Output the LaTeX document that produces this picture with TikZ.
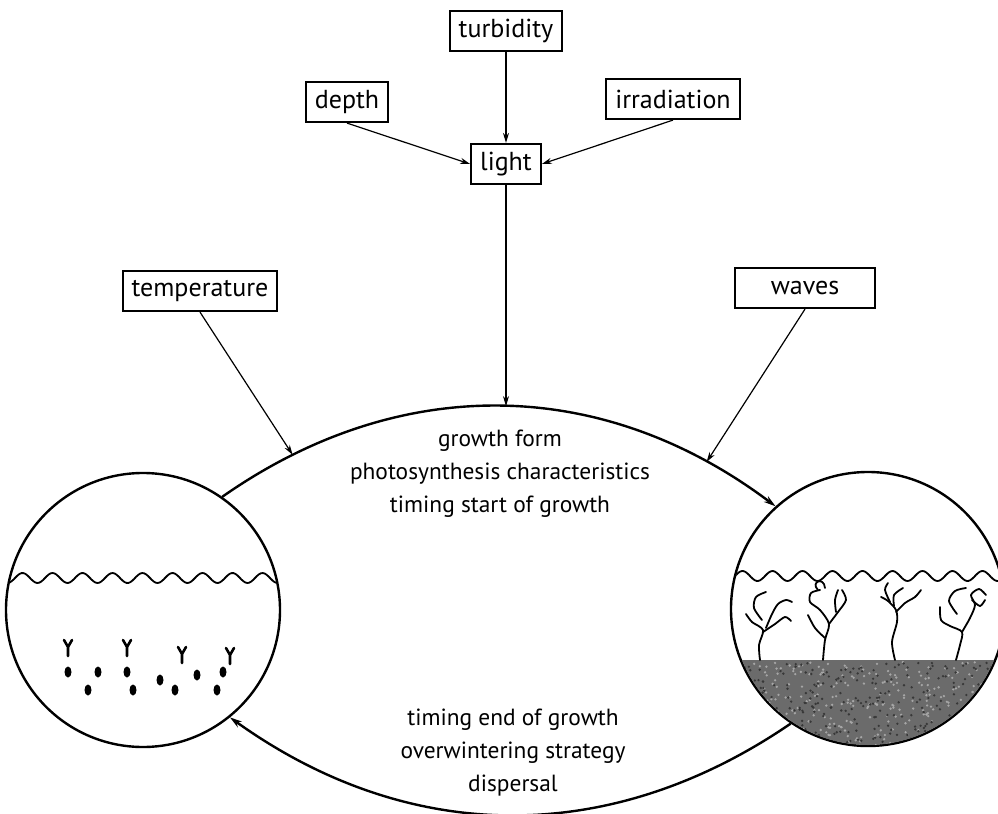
\documentclass[tikz,border=0pt]{standalone}
\usepackage{fontspec}
\setmainfont{PT Sans}
\usetikzlibrary{arrows.meta,positioning,calc}

\begin{document}
\begin{tikzpicture}[x=0.5pt,y=-0.5pt,
    every node/.style={font=\fontsize{13}{16.5}\selectfont},
    factor/.style={draw, line width=1.1pt, inner xsep=4.5pt, inner ysep=0pt, minimum height=20pt},
    pond/.style={draw, circle, line width=1.2pt, minimum size=137pt, inner sep=0pt},
    traitlist/.style={align=center, font=\fontsize{11.7}{16.5}\selectfont},
    link/.style={-{Stealth[length=5pt,width=3pt]}, line width=0.6pt},
    cycle/.style={-{Stealth[length=6pt,width=3.5pt]}, line width=1.2pt},
    weed/.style={line width=0.9pt, line cap=round, line join=round},
]
\useasboundingbox (0,0) rectangle (998,814);

% factors acting on the plants
\node[factor] (turbidity) at (506,31) {turbidity};
\node[factor] (depth) at (347,102) {depth};
\node[factor] (irradiation) at (673,99) {irradiation};
\node[factor] (light) at (506,164) {light};
\node[factor] (temperature) at (200,291) {temperature};
\node[factor, minimum width=70pt] (waves) at (805,288) {waves};

% winter and summer stage
\node[pond] (winter) at (143,610) {};
\node[pond] (summer) at (868,609) {};

% winter: surface, sprouts and turions on the bottom
\begin{scope}
  \clip (143,610) circle (136);
  \draw[line width=0.9pt] plot[domain=0:290, samples=150, smooth] (\x, {578+5*sin(\x*12)});
  \foreach \sx/\sy in {68/647, 127/647, 182/654, 230/655}
    \draw[weed, line width=1.3pt] (\sx,\sy+9) -- (\sx,\sy) -- ++(-4,-7) (\sx,\sy) -- ++(4,-7);
  \foreach \dx/\dy in {68/672, 98/672, 127/672, 160/680, 197/675, 223/672,
                       88/690, 133/690, 175/690, 217/690}
    \fill (\dx,\dy) ellipse (3.5 and 5.5);
\end{scope}

% summer: surface, sediment and grown plants
\begin{scope}
  \clip (868,609) circle (136);
  \fill[black!58] (720,660) rectangle (1010,760);
  \pgfmathsetseed{7}
  \foreach \i in {1,...,350}
    \fill[black!35] ({725+rnd*280},{662+rnd*95}) circle (1.3);
  \foreach \i in {1,...,350}
    \fill[black!78] ({725+rnd*280},{662+rnd*95}) circle (1.3);
  \draw[line width=0.9pt] plot[domain=725:1000, samples=150, smooth] (\x, {576+5*sin(\x*12)});
  % plant 1
  \draw[weed] plot[smooth] coordinates {(760,660) (759,645) (763,630) (752,622) (746,614)};
  \draw[weed] plot[smooth] coordinates {(763,632) (775,624) (785,617) (791,621)};
  \draw[weed] plot[smooth] coordinates {(766,628) (772,614) (778,604) (786,600) (792,602)};
  \draw[weed] plot[smooth] coordinates {(762,620) (754,608) (756,597) (766,592)};
  % plant 2
  \draw[weed] plot[smooth] coordinates {(823,660) (825,640) (829,624) (820,610) (810,602) (811,593) (820,590)};
  \draw[weed] plot[smooth] coordinates {(829,624) (838,612) (846,600) (842,590)};
  \draw[weed] plot[smooth] coordinates {(825,638) (815,628) (808,615)};
  \draw[weed] plot[smooth] coordinates {(836,612) (835,600) (838,590)};
  \draw[weed] (818,590) .. controls (810,582) and (824,576) .. (825,588);
  % plant 3
  \draw[weed] plot[smooth] coordinates {(895,660) (892,642) (897,622) (896,610) (888,601) (881,597)};
  \draw[weed] plot[smooth] coordinates {(896,612) (905,603) (915,597) (921,590)};
  \draw[weed] plot[smooth] coordinates {(894,606) (894,595) (903,588)};
  \draw[weed] plot[smooth] coordinates {(890,602) (885,590) (888,583)};
  % plant 4
  \draw[weed] plot[smooth] coordinates {(956,660) (960,645) (962,632) (950,626) (941,620) (940,607)};
  \draw[weed] plot[smooth] coordinates {(962,632) (970,618) (975,605) (971,595) (979,589) (986,595)};
  \draw[weed] plot[smooth] coordinates {(957,614) (949,601) (955,591) (966,588)};
  \draw[weed] plot[smooth] coordinates {(972,600) (980,606) (985,600)};
\end{scope}

% life cycle between the two stages
\draw[cycle] (winter.55) to[bend left=36] coordinate[pos=.13] (onT) coordinate[pos=.5] (onL)
  coordinate[pos=.87] (onW) (summer.132);
\draw[cycle] (summer.-124) to[bend left=35] (winter.-51);

\node[traitlist] (traits) at (500,474) {growth form\\photosynthesis characteristics\\timing start of growth};
\node[traitlist] (endtraits) at (513,753) {timing end of growth\\overwintering strategy\\dispersal};

% influences
\draw[link] (turbidity) -- (light);
\draw[link] (depth.south) -- (light.west);
\draw[link] (irradiation.south) -- (light.east);
\draw[link] (light) -- (light |- onL);
\draw[link] (temperature.south) -- (onT);
\draw[link] (waves.south) -- (onW);
\end{tikzpicture}
\end{document}
